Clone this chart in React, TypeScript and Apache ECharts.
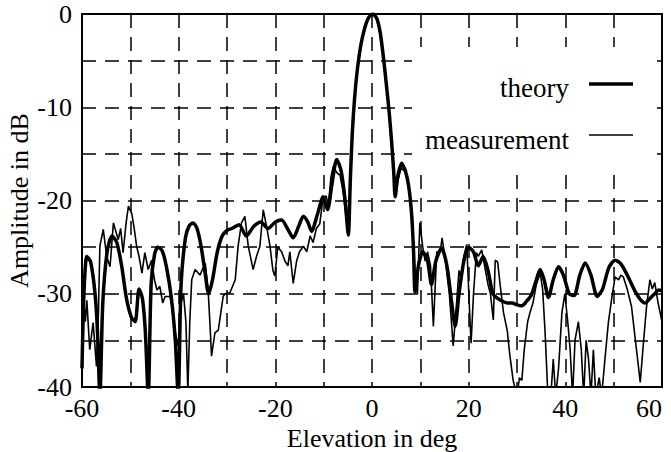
import React, { useEffect, useRef } from "react";
import * as echarts from "echarts";

const theoryDeg = [
  -60, -59.6, -59, -58.2, -57.3, -56.8, -56.3, -55.7, -54.8, -53.8, -52.8, -51.8, -50.8, -49.8, -49, -48.2, -47.5, -46.9, -46.3,
  -45.7, -45, -44.3, -43.4, -42.5, -41.5, -40.7, -40.1, -39.5, -38.6, -37.8, -37, -36.2, -35.4, -34.6, -33.8, -33, -32, -31, -30,
  -29, -27.5, -26, -24.5, -23, -21.5, -20, -18.7, -17.5, -16.3, -15.2, -14.2, -13.3, -12.5, -11.3, -10.1, -9.2, -8.3, -7.3, -6.4,
  -5.6, -4.9, -4.5, -4.1, -3.6, -3, -2.3, -1.5, -0.7, 0.2, 1, 1.7, 2.4, 3, 3.6, 4.1, 4.5, 4.8, 5.3, 6.1, 6.9, 7.6, 8.2, 8.6, 8.9,
  9.6, 10.5, 11.5, 12.3, 13.2, 14.4, 15.5, 16.5, 17.2, 18, 19, 20, 21, 22, 23, 24, 25, 26, 27, 28, 29, 30, 31, 32, 33, 34, 34.8,
  35.6, 36.5, 37.5, 38.6, 39.6, 40.8, 41.8, 43, 44.1, 45.3, 46.6, 47.7, 49, 50.3, 51.5, 53, 54.5, 55.5, 56.5, 57.5, 58.5, 59.3, 60,
];
const theoryDb = [
  -38, -30, -26, -26.6, -30, -34, -41, -31, -25.5, -23.8, -24.5, -27, -30.5, -32.5, -33, -29.5, -30.5, -34, -41,
  -29, -25.8, -25, -25.4, -27.2, -30.5, -35, -41, -29, -24, -22.7, -22.4, -23, -24.8, -27.5, -30, -28.5, -25.5, -23.8, -23.2,
  -23, -22.6, -23.8, -22.8, -22.3, -23, -22.3, -22.1, -23, -24, -22.8, -21.7, -22.3, -23.3, -21.5, -19.6, -21, -18.3, -15.6, -16.8,
  -19.8, -23.7, -18, -13, -9, -5.8, -3.3, -1.5, -0.4, 0, -0.5, -2, -4.8, -7.7, -10.8, -14, -17, -19.6, -17.5, -16, -16.8, -18.5, -21.5, -25.5, -29.8,
  -27, -25.5, -26.5, -29, -26.5, -25.1, -27, -31, -33.5, -30, -26.5, -25, -25.5, -27, -26, -27.5, -30, -30.5, -30.8, -31, -31, -31.2, -31.3, -30.8, -30.1, -28.5, -27.4,
  -28.5, -30.4, -28.5, -27.1, -28, -30, -30.2, -28, -26.7, -28, -30.3, -29.5, -27.2, -26.4, -26.8, -28.2, -29.8, -30.6, -31, -30.5, -30, -29.6, -29.7,
];

const measDeg = [
  -60, -59.7, -59.3, -59, -58.4, -57.7, -57, -56.6, -56.3, -55.6, -54.9, -54.2, -53.5, -52.5, -52, -51.5, -50.9, -50.4, -49.7, -49.2,
  -48.7, -48.2, -47.6, -47, -46.3, -45.6, -45, -44.5, -43.9, -43.3, -42.8, -41.8, -41.3, -40.8, -40.1, -39.5, -39, -38.5, -38.1, -37.7,
  -37.3, -36.6, -35.6, -34.5, -33.9, -33.5, -33.2, -32.5, -31.8, -30.8, -30.4, -29.4, -28.3, -27.7, -27, -26.3, -25.6, -24.6, -23.9, -23.2,
  -22.5, -21.8, -21.1, -20.5, -20.1, -19.5, -18.7, -18, -17.4, -17, -16.3, -15.6, -15, -14.2, -13.5, -12.8, -12.2, -11.5, -10.8, -10.2,
  -9.5, -9, -8.5, -8, -7.3, -6.6, -6, -5.3, -4.8, -4.5, -4.1, -3.6, -3, -2.3, -1.5, -0.7, 0.2, 1, 1.7, 2.4, 3, 3.6, 4.1, 4.5, 4.9, 5.4,
  6, 7, 7.6, 8, 8.5, 9, 9.4, 9.9, 10.5, 11, 11.5, 12.1, 12.7, 13.4, 14.1, 14.5, 15.2, 16, 16.8, 17.5, 18, 18.5, 19, 19.6, 20.2, 20.5,
  21, 21.6, 22, 22.7, 23.3, 24, 24.5, 25.1, 25.5, 26, 26.5, 27.2, 28, 28.5, 29.2, 30, 30.5, 31, 31.5, 32.2, 32.7, 33.3, 34, 34.8, 35.3,
  35.8, 36.4, 37, 37.5, 38, 38.6, 39.3, 39.9, 40.5, 41, 41.5, 42, 42.7, 43.3, 43.8, 44.3, 44.8, 45.3, 45.8, 46.3, 47, 47.5, 48.2, 48.9,
  49.6, 50.3, 51, 51.5, 52, 52.8, 53.7, 54.5, 55.5, 56.2, 56.8, 57.5, 58, 58.5, 59.2, 60,
];
const measDb = [
  -40, -30.3, -33, -30.7, -36, -33.1, -37.8, -32, -24.9, -23.1, -26, -27.1, -22.4, -24.2, -23, -25.6, -22.5, -20.6, -21.4, -23,
  -24.9, -26, -27.8, -25.6, -27.4, -26.4, -28.5, -29.6, -29.2, -31, -30.3, -30.3, -31.5, -33.9, -35.6, -31, -30, -33, -40.5, -33,
  -28.5, -27.4, -28, -26.7, -29.6, -33.5, -36.7, -34.2, -33.9, -30.3, -30, -29.9, -28.5, -24.9, -22.4, -21.7, -24.9, -27.4, -26, -24.9,
  -21, -22.8, -24.9, -27.5, -28.1, -25, -25.5, -26.5, -27, -25.5, -28.9, -26.5, -25.5, -24.9, -25.5, -23.8, -24.5, -23, -22.5, -20,
  -19.5, -20.5, -17.5, -16.3, -17, -17.3, -19, -22, -23.2, -19, -13.5, -9.2, -6, -3.4, -1.4, -0.3, 0, -0.6, -2.1, -5, -7.9, -11, -14.3, -17.3, -19.5, -17.8,
  -16.5, -17, -18.8, -20, -24, -28.5, -30, -22.4, -25, -26.5, -25.5, -27, -33.5, -25.5, -25.6, -24, -26.5, -30, -35.6, -31, -27.5, -28.5, -26, -24.7, -32, -35.3,
  -30, -25.6, -26, -25.3, -27, -29, -30, -32.8, -26.4, -26.6, -29, -32, -34, -36.5, -39.3, -41, -39, -39.3, -36, -33, -32, -31, -29, -27.8, -29.5,
  -34, -41, -41, -37, -41, -38, -32, -30, -33, -36, -41, -35, -33, -36, -41, -35, -37, -41, -36, -41, -39, -41, -37, -33.1,
  -30.5, -28.2, -28.5, -28, -28.2, -29.5, -31.4, -35, -39.5, -35, -31.4, -28.5, -29.5, -28.8, -31, -33,
];

const xTickLabels = ["-60", "-40", "-20", "0", "20", "40", "60"];
const yTickLabels = ["-40", "-30", "-20", "-10", "0"];
const seriesNames = ["theory", "measurement"];

const FONT = "Liberation Serif";

export default function App() {
  const ref = useRef<HTMLDivElement>(null);
  useEffect(() => {
    document.body.style.margin = "0";
    if (!ref.current) return;
    const chart = echarts.init(ref.current, null, { renderer: "svg" });
    const theory = theoryDeg.map((x, i) => [x, theoryDb[i]]);
    const meas = measDeg.map((x, i) => [x, measDb[i]]);
    const dash = { type: [14, 9] as any, color: "#000", width: 1.5 };
    chart.setOption({
      animation: false,
      backgroundColor: "#fff",
      grid: {
        left: 82,
        right: 9,
        top: 14,
        bottom: 65,
        show: true,
        borderColor: "#000",
        borderWidth: 2,
        backgroundColor: "transparent",
        containLabel: false,
        outerBoundsMode: "none",
      },
      xAxis: {
        type: "value",
        min: -60,
        max: 60,
        interval: 10,
        name: "Elevation in deg",
        nameLocation: "middle",
        nameGap: 33,
        nameTextStyle: { fontFamily: FONT, fontSize: 26, color: "#000" },
        axisLine: { show: false },
        axisTick: { show: false },
        axisLabel: {
          fontFamily: FONT,
          fontSize: 26,
          color: "#000",
          margin: 8,
          alignMaxLabel: "right",
          formatter: (v: number) => (xTickLabels.includes(String(v)) ? String(v) : ""),
        },
        splitLine: { show: true, lineStyle: dash },
      },
      yAxis: {
        type: "value",
        min: -40,
        max: 0,
        interval: 5,
        name: "Amplitude in dB",
        nameLocation: "middle",
        nameGap: 50,
        nameRotate: 90,
        nameMoveOverlap: false,
        nameTextStyle: { fontFamily: FONT, fontSize: 26, color: "#000" },
        axisLine: { show: false },
        axisTick: { show: false },
        axisLabel: {
          fontFamily: FONT,
          fontSize: 26,
          color: "#000",
          margin: 10,
          formatter: (v: number) => (yTickLabels.includes(String(v)) ? String(v) : ""),
        },
        splitLine: { show: true, lineStyle: dash },
      },
      graphic: [
        {
          type: "rect",
          z: 50,
          shape: { x: 412, y: 47, width: 238, height: 123 },
          style: { fill: "#fff" },
        },
        {
          type: "text",
          z: 51,
          x: 569,
          y: 88,
          style: { text: seriesNames[0], fill: "#000", font: `27px "${FONT}"`, align: "right", verticalAlign: "middle" },
        },
        {
          type: "line",
          z: 51,
          shape: { x1: 589, y1: 84, x2: 633, y2: 84 },
          style: { stroke: "#000", lineWidth: 3.5 },
        },
        {
          type: "text",
          z: 51,
          x: 569,
          y: 140,
          style: { text: seriesNames[1], fill: "#000", font: `27px "${FONT}"`, align: "right", verticalAlign: "middle" },
        },
        {
          type: "line",
          z: 51,
          shape: { x1: 589, y1: 135, x2: 633, y2: 135 },
          style: { stroke: "#000", lineWidth: 1.5 },
        },
      ],
      series: [
        {
          name: seriesNames[0],
          type: "line",
          data: theory,
          showSymbol: false,
          symbol: "none",
          smooth: 0.25,
          lineStyle: { color: "#000", width: 3.5 },
          z: 3,
        },
        {
          name: seriesNames[1],
          type: "line",
          data: meas,
          showSymbol: false,
          symbol: "none",
          lineStyle: { color: "#000", width: 1.6 },
          z: 4,
        },
      ],
    });
    return () => chart.dispose();
  }, []);
  return <div ref={ref} style={{ width: 671, height: 452 }} />;
}
